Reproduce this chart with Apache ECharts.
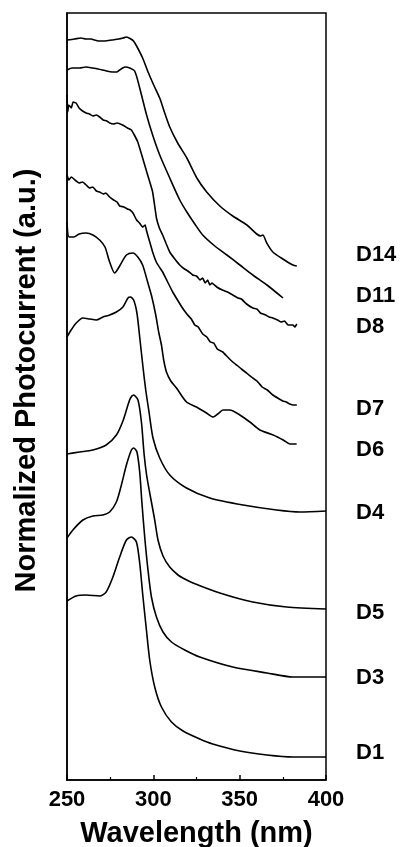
<!DOCTYPE html>
<html><head><meta charset="utf-8">
<script src="https://cdn.jsdelivr.net/npm/echarts@6/dist/echarts.min.js"></script>
<style>html,body{margin:0;padding:0;background:#fff}#c{width:404px;height:847px}</style>
</head><body><div id="c"></div>
<script>
// Wavelength (nm) / normalized photocurrent (a.u., stacked offsets)
const xTicks = [250, 300, 350, 400];
const names = ['D14','D11','D8','D7','D6','D4','D5','D3','D1'];

const D14 = [[250,7.40],[254.4,7.41],[258,7.42],[261,7.41],[264,7.41],[266,7.40],[268,7.39],[272,7.39],[276,7.40],[280,7.41],[282.5,7.42],[284.5,7.43],[287,7.41],[288.5,7.39],[290.3,7.34],[293.8,7.22],[296.7,7.09],[300.2,6.95],[303.7,6.82],[306.6,6.67],[309.5,6.53],[314.1,6.37],[319.4,6.22],[325.2,6.02],[330.9,5.88],[338.5,5.74],[346,5.64],[354.2,5.55],[359.9,5.46],[362.2,5.44],[363.4,5.45],[365.7,5.37],[369.2,5.28],[375,5.21],[380.8,5.15],[383.1,5.14]];
const D11 = [[250,7.10],[253,7.12],[257.3,7.12],[261,7.13],[264.8,7.12],[268,7.11],[272.9,7.09],[276,7.08],[278.7,7.08],[280.5,7.10],[282.2,7.12],[284,7.13],[286.3,7.12],[289.2,7.09],[292.1,6.92],[296.1,6.65],[299.6,6.45],[303.7,6.25],[309.5,6.02],[315.3,5.80],[319.4,5.68],[324,5.56],[328.6,5.45],[335.6,5.34],[342.6,5.25],[350.1,5.15],[357.6,5.05],[365.8,4.95],[375.1,4.82]];
const D8 = [[250,6.85],[250.4,6.68],[251,6.75],[252.5,6.72],[253.5,6.78],[255.3,6.77],[257,6.72],[259,6.69],[261.1,6.67],[263,6.66],[265,6.64],[267,6.65],[268.9,6.63],[271,6.60],[273,6.59],[274.7,6.57],[277,6.56],[279,6.57],[282.2,6.55],[285,6.52],[287.3,6.50],[289,6.45],[291,6.38],[293.8,6.22],[296.7,6.05],[299.6,5.88],[301.8,5.62],[303.5,5.52],[305.4,5.45],[307.5,5.36],[309.5,5.28],[312,5.22],[315.3,5.15],[318,5.11],[320,5.09],[322.8,5.05],[325,5.04],[327,5.00],[328.6,5.02],[330,4.97],[331.5,5.00],[332.7,4.95],[334,4.97],[336.7,4.93],[340,4.90],[343,4.88],[346,4.85],[349,4.82],[351,4.81],[354,4.76],[357.6,4.72],[360,4.71],[362,4.67],[365,4.65],[367,4.63],[369.2,4.62],[372,4.60],[374,4.58],[376,4.59],[378,4.55],[380.8,4.55],[382,4.53],[383.1,4.56]];
const D7 = [[250,6.05],[251,6.00],[252.5,6.03],[255.3,5.99],[257,5.97],[259,5.98],[261.1,5.95],[263,5.92],[265,5.93],[267,5.89],[268.9,5.88],[271,5.86],[272.5,5.87],[274.7,5.83],[277,5.80],[279,5.78],[280.5,5.74],[283,5.73],[285,5.71],[286.5,5.70],[288.2,5.67],[290.3,5.60],[292,5.57],[293.8,5.53],[295.3,5.55],[296.1,5.49],[299.6,5.28],[302,5.17],[305.4,5.08],[308,4.99],[311.2,4.88],[314,4.80],[316.5,4.73],[319.4,4.66],[322,4.61],[324,4.55],[326,4.53],[328.6,4.46],[331,4.43],[333,4.38],[335,4.37],[337,4.31],[340.2,4.28],[343,4.23],[346,4.18],[349,4.14],[351,4.11],[354,4.07],[357.6,4.02],[360,3.99],[363,3.93],[366,3.90],[369.2,3.85],[372,3.82],[375,3.79],[377,3.78],[379,3.76],[381,3.75],[383.1,3.75]];
const D6 = [[250,5.58],[251.2,5.43],[254,5.43],[257,5.46],[261.1,5.47],[265,5.45],[268.9,5.40],[272,5.33],[274.7,5.18],[277.6,5.07],[280.5,5.14],[284.4,5.25],[288.2,5.27],[291,5.23],[293.8,5.15],[296.7,4.98],[299,4.84],[301.4,4.65],[303.1,4.48],[304.7,4.35],[306,4.20],[307.6,4.08],[310.1,3.99],[313.4,3.92],[319.2,3.78],[325,3.73],[330.8,3.67],[334.6,3.63],[337.3,3.66],[340.4,3.70],[344.3,3.70],[350.1,3.65],[355.9,3.58],[361.7,3.50],[369.4,3.45],[375.2,3.40],[379.1,3.36],[383,3.36]];
const D4 = [[250,4.43],[252.4,4.50],[255.3,4.57],[259.2,4.62],[263.1,4.61],[266.9,4.60],[270.8,4.63],[274.7,4.65],[278.6,4.68],[282.4,4.73],[285.3,4.82],[286.7,4.83],[288.6,4.80],[290.5,4.67],[292.1,4.43],[294,4.13],[295.6,3.90],[297.5,3.68],[299.8,3.42],[303.7,3.22],[309.5,3.05],[319.2,2.92],[332.7,2.82],[352,2.75],[371.4,2.70],[384.9,2.68],[400,2.69]];
const D5 = [[250,3.26],[257.3,3.28],[265,3.30],[272.7,3.35],[278.6,3.45],[282.4,3.59],[285.3,3.75],[286.8,3.82],[288.6,3.85],[291.1,3.80],[293.1,3.58],[294.7,3.25],[296.1,3.05],[297.6,2.90],[299,2.77],[300.8,2.60],[302.7,2.40],[305.6,2.24],[309.5,2.13],[314.3,2.05],[318.2,2.01],[323,1.97],[338.5,1.87],[357.6,1.78],[377.2,1.73],[400,1.71]];
const D3 = [[250,2.42],[253.4,2.50],[259.2,2.60],[265,2.64],[270.8,2.65],[274.7,2.68],[278.6,2.78],[281.5,2.95],[284.4,3.15],[287.3,3.30],[288.6,3.32],[290.5,3.28],[292.1,3.08],[293.4,2.77],[295,2.43],[296.9,2.10],[298.9,1.83],[301.8,1.63],[305.6,1.48],[310.5,1.38],[318.2,1.30],[326.9,1.23],[346,1.13],[365.8,1.07],[380.8,1.03],[400,1.03]];
const D1 = [[250,1.79],[255.3,1.84],[261.1,1.85],[268.9,1.84],[272.7,1.88],[276.6,2.03],[280.5,2.23],[284.4,2.40],[287.3,2.43],[290.2,2.38],[292.1,2.17],[294,1.83],[296,1.50],[297.9,1.20],[300.8,0.93],[304.7,0.73],[310.5,0.58],[317.2,0.49],[326.9,0.41],[334.4,0.36],[350.1,0.29],[365.8,0.25],[380.8,0.23],[400,0.23]];

const allSeries = [D14, D11, D8, D7, D6, D4, D5, D3, D1];
const noisy = ['D8','D7'];
// label vertical positions (px) for the curve names at the right
const labelY = [255, 296, 327, 409, 450, 513, 613, 678, 753];

const FONT = 'Liberation Sans, Arial, Helvetica, sans-serif';
const chart = echarts.init(document.getElementById('c'), null, {renderer:'canvas', width:404, height:847});
chart.setOption({
  animation:false,
  backgroundColor:'#fff',
  grid:{left:67, right:78, top:13, bottom:67, show:true, borderColor:'#000', borderWidth:1.5,
        containLabel:false, outerBoundsMode:'none'},
  xAxis:{type:'value', min:xTicks[0], max:xTicks[xTicks.length-1], interval:50,
    axisLine:{show:true, onZero:false, lineStyle:{color:'#000', width:1.5}},
    axisTick:{show:true, inside:true, length:5, lineStyle:{color:'#000', width:1.5}},
    minorTick:{show:true, splitNumber:2, length:3, lineStyle:{color:'#000', width:1.2}},
    splitLine:{show:false},
    axisLabel:{color:'#000', fontSize:22, fontWeight:'bold', fontFamily:FONT, margin:9},
    name:'Wavelength (nm)', nameLocation:'middle', nameGap:39,
    nameTextStyle:{color:'#000', fontSize:29, fontWeight:'bold', fontFamily:FONT}
  },
  yAxis:{type:'value', min:0, max:7.67,
    axisLine:{show:true, lineStyle:{color:'#000', width:1.5}},
    axisTick:{show:false}, axisLabel:{show:false}, splitLine:{show:false},
    name:'Normalized Photocurrent (a.u.)', nameLocation:'middle', nameGap:26,
    nameTextStyle:{color:'#000', fontSize:29, fontWeight:'bold', fontFamily:FONT, padding:[0,0,0,32]}
  },
  series: allSeries.map((d,i)=>({
    name:names[i], type:'line', data:d, showSymbol:false, symbol:'none',
    smooth: noisy.includes(names[i]) ? 0.1 : 0.25,
    lineStyle:{color:'#000', width:1.6}, clip:true
  })),
  graphic: names.map((n,i)=>({
    type:'text', left:356, top:labelY[i]-11,
    style:{text:n, font:'bold 22px ' + FONT, fill:'#000'}
  }))
});
</script></body></html>
